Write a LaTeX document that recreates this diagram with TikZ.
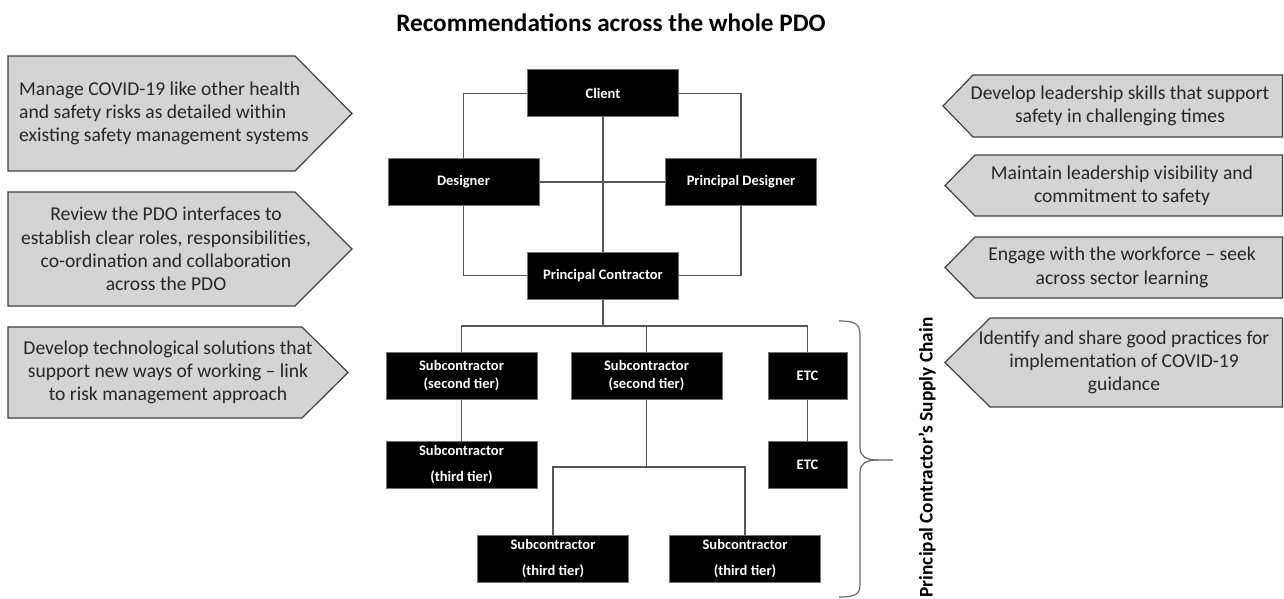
\documentclass[tikz,border=0pt]{standalone}
\usepackage{fontspec}
\setmainfont{Carlito}
\definecolor{recfill}{HTML}{D4D4D4}
\definecolor{recline}{HTML}{404040}
\definecolor{conn}{HTML}{555555}
\definecolor{txt}{HTML}{262626}
\begin{document}
\begin{tikzpicture}[x=1pt,y=-1pt,
  rec/.style={fill=recfill,draw=recline,line width=1.2pt,line join=miter},
  rectext/.style={text=txt,align=center,inner sep=0pt,font=\fontsize{19.6}{23.3}\selectfont},
  orgbox/.style={fill=black,draw=black!55,line width=1pt,text=white,align=center,
    minimum width=151pt,minimum height=47pt,inner sep=0pt,
    font=\bfseries\fontsize{14.5}{18}\selectfont},
  orgboxt/.style={orgbox,font=\bfseries\fontsize{14.5}{26}\selectfont},
  etcbox/.style={orgbox,minimum width=79pt},
  link/.style={draw=conn,line width=1.4pt}]
\useasboundingbox (0,0) rectangle (1284,599);

% title
\node[anchor=base,font=\bfseries\fontsize{25.2}{30}\selectfont,inner sep=0pt] (title) at (611,32) {Recommendations across the whole PDO};

% left recommendation arrows
\draw[rec] (8,56) -- (295,56) -- (352,113.5) -- (295,171) -- (8,171) -- cycle;
\node[rectext,anchor=west,align=left] (l1) at (19,113.5) {Manage COVID-19 like other health\\and safety risks as detailed within\\existing safety management systems};
\draw[rec] (8,192) -- (295,192) -- (352,249) -- (295,306) -- (8,306) -- cycle;
\node[rectext] (l2) at (166,249) {Review the PDO interfaces to\\establish clear roles, responsibilities,\\co-ordination and collaboration\\across the PDO};
\draw[rec] (8,327) -- (302,327) -- (348,372.5) -- (302,418) -- (8,418) -- cycle;
\node[rectext] (l3) at (168,372.5) {Develop technological solutions that\\support new ways of working -- link\\to risk management approach};

% right recommendation arrows
\draw[rec] (1282.5,75) -- (973,75) -- (943,106) -- (973,137) -- (1282.5,137) -- cycle;
\node[rectext] (r1) at (1120,106) {Develop leadership skills that support\\safety in challenging times};
\draw[rec] (1282.5,155) -- (975,155) -- (945,185.5) -- (975,216) -- (1282.5,216) -- cycle;
\node[rectext] (r2) at (1122,185.5) {Maintain leadership visibility and\\commitment to safety};
\draw[rec] (1282.5,237) -- (975,237) -- (945,267.5) -- (975,298) -- (1282.5,298) -- cycle;
\node[rectext] (r3) at (1122,267.5) {Engage with the workforce -- seek\\across sector learning};
\draw[rec] (1282.5,318) -- (990,318) -- (945,362.5) -- (990,407) -- (1282.5,407) -- cycle;
\node[rectext] (r4) at (1124,362.5) {Identify and share good practices for\\implementation of COVID-19\\guidance};

% organisation chart
\node[orgbox] (client) at (603,93.5) {Client};
\node[orgbox] (des) at (463.5,182) {Designer};
\node[orgbox] (pd) at (741,182) {Principal Designer};
\node[orgbox] (pc) at (603,275.5) {Principal Contractor};
\node[orgbox] (s2l) at (461.5,375.5) {Subcontractor\\(second tier)};
\node[orgbox] (s2m) at (646.5,375.5) {Subcontractor\\(second tier)};
\node[etcbox] (etc1) at (807.5,375.5) {ETC};
\node[orgboxt] (s3l) at (461.5,464.5) {Subcontractor\\(third tier)};
\node[etcbox] (etc2) at (807.5,464.5) {ETC};
\node[orgboxt] (s3a) at (553,559) {Subcontractor\\(third tier)};
\node[orgboxt] (s3b) at (745,559) {Subcontractor\\(third tier)};

\coordinate (br) at (603,326);
\coordinate (br2) at (646.5,467);

\path[link] (client.west) -| (des.north);
\path[link] (client.east) -| (pd.north);
\path[link] (client.south) -- (pc.north);
\path[link] (des.east) -- (pd.west);
\path[link] (des.south) |- (pc.west);
\path[link] (pd.south) |- (pc.east);
\path[link] (pc.south) -- (br);
\path[link] (br) -| (s2l.north);
\path[link] (br) -| (s2m.north);
\path[link] (br) -| (etc1.north);
\path[link] (s2l.south) -- (s3l.north);
\path[link] (etc1.south) -- (etc2.north);
\path[link] (s2m.south) -- (br2);
\path[link] (br2) -| (s3a.north);
\path[link] (br2) -| (s3b.north);

% brace
\coordinate (bt) at (839,321);
\coordinate (bb) at (839,597);
\coordinate (btip) at (893,460);
\draw[draw=black!60,line width=1.2pt] (bt) .. controls (856,321) and (860,324) .. (860,336) -- (860,447) .. controls (860,456) and (865,460) .. (878,460) -- (btip);
\draw[draw=black!60,line width=1.2pt] (878,460) .. controls (865,460) and (860,464) .. (860,473) -- (860,584) .. controls (860,594) and (856,597) .. (bb);
\node[rotate=90,font=\bfseries\fontsize{19.3}{23}\selectfont,inner sep=0pt] (chain) at (927,457.5) {Principal Contractor’s Supply Chain};
\end{tikzpicture}
\end{document}
